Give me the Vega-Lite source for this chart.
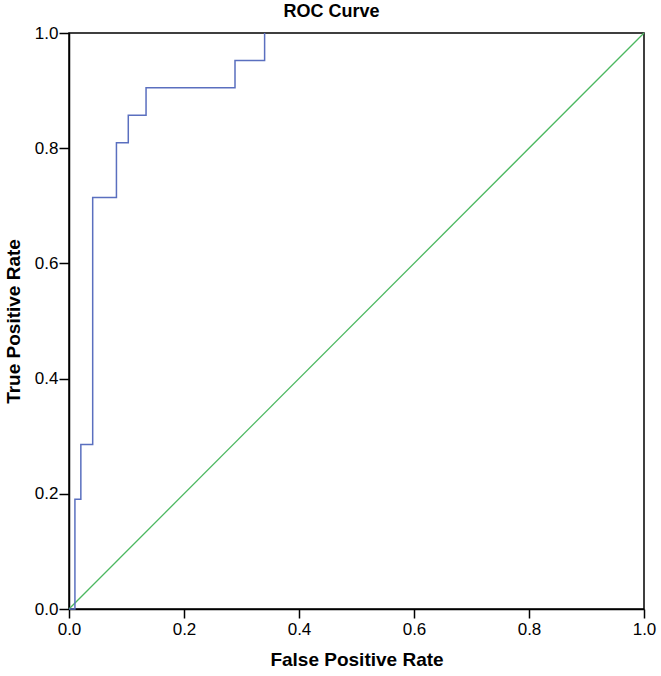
{
  "$schema": "https://vega.github.io/schema/vega-lite/v6.json",
  "autosize": {"type": "none"},
  "padding": {"left": 69, "top": 33, "right": 17, "bottom": 67},
  "width": 575,
  "height": 576,
  "background": "white",
  "title": {
    "text": "ROC Curve",
    "font": "Liberation Sans",
    "fontSize": 18,
    "fontWeight": "bold",
    "color": "black",
    "anchor": "middle",
    "dx": -25,
    "offset": 3
  },
  "config": {
    "view": {"stroke": "black", "strokeWidth": 1.5},
    "axis": {
      "grid": false,
      "domainColor": "black",
      "domainWidth": 1.5,
      "tickColor": "black",
      "tickWidth": 1.5,
      "labelFont": "Liberation Sans",
      "labelFontSize": 17,
      "labelColor": "black",
      "titleFont": "Liberation Sans",
      "titleFontSize": 19,
      "titleFontWeight": "bold",
      "titleColor": "black"
    }
  },
  "datasets": {
    "roc": [
      {"step": 0, "fpr": 0.0, "tpr": 0.0},
      {"step": 1, "fpr": 0.0103, "tpr": 0.0},
      {"step": 2, "fpr": 0.0103, "tpr": 0.1905},
      {"step": 3, "fpr": 0.0206, "tpr": 0.1905},
      {"step": 4, "fpr": 0.0206, "tpr": 0.2857},
      {"step": 5, "fpr": 0.0412, "tpr": 0.2857},
      {"step": 6, "fpr": 0.0412, "tpr": 0.7143},
      {"step": 7, "fpr": 0.0825, "tpr": 0.7143},
      {"step": 8, "fpr": 0.0825, "tpr": 0.8095},
      {"step": 9, "fpr": 0.1031, "tpr": 0.8095},
      {"step": 10, "fpr": 0.1031, "tpr": 0.8571},
      {"step": 11, "fpr": 0.134, "tpr": 0.8571},
      {"step": 12, "fpr": 0.134, "tpr": 0.9048},
      {"step": 13, "fpr": 0.2887, "tpr": 0.9048},
      {"step": 14, "fpr": 0.2887, "tpr": 0.9524},
      {"step": 15, "fpr": 0.3402, "tpr": 0.9524},
      {"step": 16, "fpr": 0.3402, "tpr": 1.0}
    ],
    "reference": [
      {"step": 0, "fpr": 0.0, "tpr": 0.0},
      {"step": 1, "fpr": 1.0, "tpr": 1.0}
    ]
  },
  "encoding": {
    "x": {
      "field": "fpr",
      "type": "quantitative",
      "scale": {"domain": [0, 1], "nice": false, "zero": true},
      "axis": {
        "title": "False Positive Rate",
        "values": [0, 0.2, 0.4, 0.6, 0.8, 1.0],
        "format": ".1f",
        "tickSize": 9,
        "labelPadding": 3,
        "titlePadding": 13,
        "labelFlush": false
      }
    },
    "y": {
      "field": "tpr",
      "type": "quantitative",
      "scale": {"domain": [0, 1], "nice": false, "zero": true},
      "axis": {
        "title": "True Positive Rate",
        "values": [0, 0.2, 0.4, 0.6, 0.8, 1.0],
        "format": ".1f",
        "tickSize": 10,
        "labelPadding": 1,
        "titlePadding": 11,
        "labelFlush": false
      }
    },
    "order": {"field": "step", "type": "quantitative"}
  },
  "layer": [
    {
      "data": {"name": "reference"},
      "mark": {"type": "line", "color": "#4cb860", "strokeWidth": 1.3}
    },
    {
      "data": {"name": "roc"},
      "mark": {"type": "line", "color": "#5a6fbf", "strokeWidth": 1.5}
    }
  ]
}
